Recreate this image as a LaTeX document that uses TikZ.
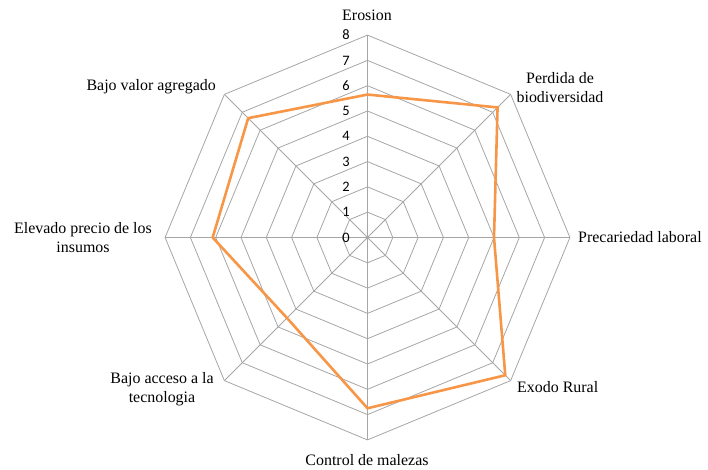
\documentclass[tikz,border=0pt]{standalone}
\usepackage{fontspec}
\setmainfont{Liberation Serif}
\newfontfamily\numfont{Carlito}
\definecolor{gridgray}{HTML}{A6A6A6}
\definecolor{serieorange}{HTML}{F79646}
\begin{document}
\begin{tikzpicture}[x=1bp,y=-1bp,
  gridline/.style={draw=gridgray, line width=0.8bp},
  serie/.style={draw=serieorange, line width=2.6bp, line join=miter},
  axislabel/.style={font=\fontsize{16}{19}\selectfont, inner sep=0pt, align=center},
  ticklabel/.style={font=\numfont\fontsize{14.5}{16}\selectfont, inner sep=0pt}]
\useasboundingbox (0,0) rectangle (708,470);
\begin{scope}[shift={(367.5,237.5)}, x=25.3bp, y=25.3bp]
  \coordinate (c) at (0,0);
  \foreach \r in {1,...,8}
    \draw[gridline] (90:\r) -- (45:\r) -- (0:\r) -- (-45:\r) -- (-90:\r) -- (-135:\r) -- (180:\r) -- (135:\r) -- cycle;
  \foreach \a [count=\i] in {90,45,0,-45,-90,-135,180,135}
    \coordinate (e\i) at (\a:8);
  \foreach \i in {1,...,8}
    \draw[gridline] (c) -- (e\i);
  \foreach \k in {0,...,8}
    \node[ticklabel] (t\k) at (-0.85,\k) {\k};
  \coordinate (d1) at (90:5.65);
  \coordinate (d2) at (45:7.27);
  \coordinate (d3) at (0:5.0);
  \coordinate (d4) at (-45:7.7);
  \coordinate (d5) at (-90:6.75);
  \coordinate (d6) at (-135:4.5);
  \coordinate (d7) at (180:6.12);
  \coordinate (d8) at (135:6.67);
  \draw[serie] (d1) -- (d2) -- (d3) -- (d4) -- (d5) -- (d6) -- (d7) -- (d8) -- cycle;
\end{scope}
\node[axislabel] (l1) at (367,15) {Erosion};
\node[axislabel] (l2) at (560,88) {Perdida de\\biodiversidad};
\node[axislabel, anchor=west] (l3) at (578,237) {Precariedad laboral};
\node[axislabel, anchor=west] (l4) at (517,387) {Exodo Rural};
\node[axislabel] (l5) at (367,460) {Control de malezas};
\node[axislabel] (l6) at (162,389.5) {Bajo acceso a la\\tecnologia};
\node[axislabel] (l7) at (83,238) {Elevado precio de los\\insumos};
\node[axislabel, anchor=east] (l8) at (216,87) {Bajo valor agregado};
\end{tikzpicture}
\end{document}
